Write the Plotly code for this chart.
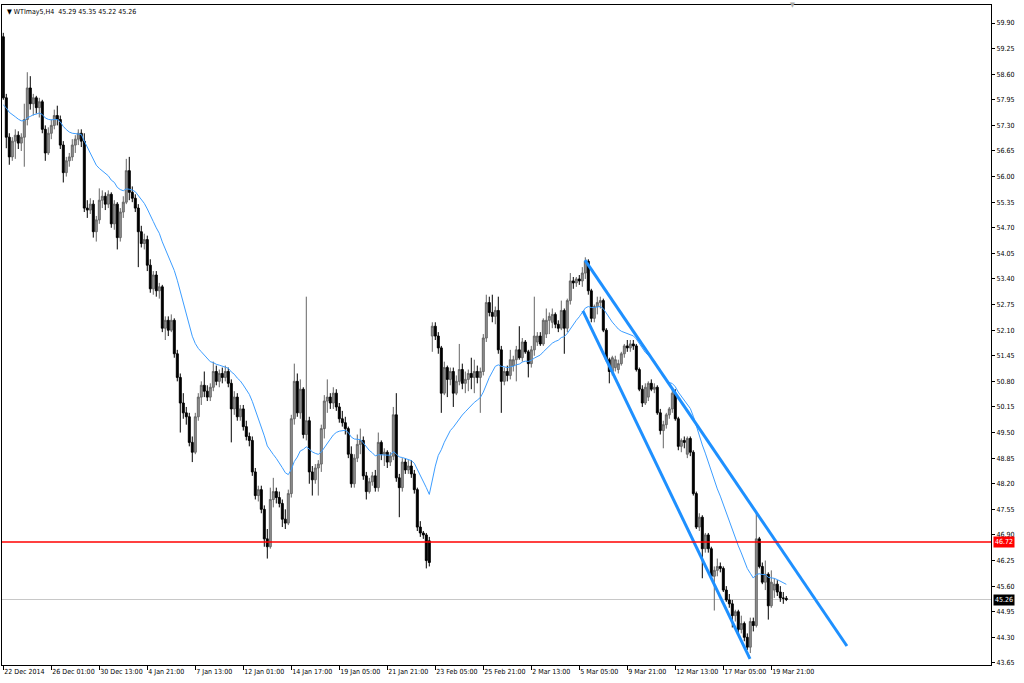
import plotly.graph_objects as go

# ---------------- data (WTImay5, H4) ----------------
opens = [
    59.55, 58.00, 57.00, 56.50, 56.90, 57.05, 56.85, 57.00, 57.45, 58.25,
    57.85, 58.00, 57.75, 57.90, 57.20, 56.60, 57.10, 57.30, 57.55, 57.45,
    56.80, 56.10, 56.40, 56.50, 56.80, 56.95, 57.10, 56.90, 55.20, 55.15,
    55.30, 54.60, 54.90, 55.40, 55.50, 55.30, 55.55, 54.80, 55.30, 54.45,
    55.10, 55.35, 56.15, 55.60, 55.45, 55.20, 54.60, 54.30, 54.40, 53.75,
    53.15, 53.50, 53.10, 53.20, 52.15, 52.35, 52.10, 52.35, 51.50, 50.90,
    50.25, 50.00, 49.90, 49.25, 49.00, 49.90, 50.40, 50.70, 50.55, 50.40,
    50.65, 51.05, 50.80, 51.00, 50.90, 51.05, 50.75, 50.10, 50.40, 49.90,
    50.10, 49.65, 49.40, 49.30, 48.50, 47.90, 48.05, 47.55, 46.80, 46.60,
    47.80, 48.00, 47.85, 47.70, 47.30, 47.20, 47.95, 49.85, 50.80, 50.00,
    50.60, 49.45, 49.80, 48.50, 48.30, 48.60, 48.70, 49.60, 50.30, 50.40,
    50.25, 50.50, 50.15, 49.85, 49.75, 49.60, 48.95, 48.20, 48.85, 49.20,
    49.30, 48.40, 48.00, 48.25, 48.40, 48.10, 49.25, 48.95, 49.00, 48.75,
    48.90, 49.95, 48.35, 48.10, 48.75, 48.55, 48.65, 48.45, 48.05, 47.10,
    46.95, 46.90, 46.75, 51.95, 52.20, 51.95, 51.65, 50.50, 51.15, 50.85,
    51.05, 50.50, 50.80, 51.10, 50.75, 50.85, 51.00, 50.90, 51.05, 50.90,
    51.05, 51.90, 52.80, 52.55, 52.45, 52.60, 51.60, 50.80, 51.05, 50.95,
    51.20, 51.35, 51.60, 51.40, 51.80, 51.55, 51.25, 51.60, 51.80, 51.95,
    51.75, 52.00, 52.35, 52.30, 52.50, 52.25, 52.15, 52.60, 52.15, 52.85,
    53.35, 53.30, 53.40, 53.35, 53.55, 53.85, 53.10, 52.40, 52.70, 52.80,
    52.85, 52.10, 51.35, 51.05, 51.15, 51.10, 51.25, 51.50, 51.70, 51.65,
    51.75, 51.70, 51.10, 50.60, 50.25, 50.40, 50.75, 50.60, 50.65, 50.00,
    49.55, 49.70, 49.95, 50.10, 50.50, 49.85, 49.15, 49.30, 48.95, 49.35,
    49.00, 47.95, 47.10, 47.35, 46.55, 46.90, 46.55, 45.85, 46.00, 46.10,
    46.05, 45.50, 45.25, 45.15, 44.85, 44.95, 44.50, 44.65, 44.30, 44.05,
    44.70, 44.60, 46.80, 46.10, 45.70, 45.90, 45.10, 45.50, 45.65, 45.45,
    45.30, 45.29,
]
highs = [
    59.65, 58.10, 57.10, 57.00, 57.20, 57.15, 57.10, 57.85, 58.65, 58.55,
    58.10, 58.05, 58.00, 57.95, 57.30, 57.25, 57.45, 57.70, 57.80, 57.55,
    56.90, 56.50, 56.60, 56.95, 57.05, 57.20, 57.20, 57.10, 55.40, 55.45,
    55.40, 55.00, 55.70, 55.65, 55.60, 55.65, 55.60, 55.40, 55.35, 55.20,
    55.50, 56.45, 56.50, 55.75, 55.55, 55.30, 54.75, 54.55, 54.50, 53.90,
    53.60, 53.60, 53.30, 53.25, 52.45, 52.45, 52.50, 52.40, 51.60, 51.00,
    50.50, 50.15, 50.00, 49.40, 50.00, 50.50, 50.80, 51.05, 50.70, 50.75,
    51.30, 51.20, 51.10, 51.15, 51.20, 51.15, 50.85, 50.55, 50.50, 50.20,
    50.20, 49.80, 49.50, 49.40, 48.60, 48.15, 48.15, 47.65, 47.05, 48.10,
    48.35, 48.10, 48.00, 47.80, 47.55, 48.05, 49.95, 51.25, 51.00, 50.85,
    50.65, 52.95, 49.90, 48.65, 48.70, 48.80, 49.70, 50.45, 50.85, 50.50,
    50.65, 50.60, 50.25, 50.05, 49.90, 49.65, 49.15, 48.95, 49.45, 49.60,
    49.40, 48.50, 48.35, 48.50, 48.55, 49.50, 49.30, 49.10, 49.05, 49.00,
    50.15, 50.50, 48.45, 48.85, 48.85, 48.80, 48.80, 48.55, 48.10, 47.25,
    47.00, 46.95, 46.85, 52.30, 52.30, 52.05, 51.70, 51.30, 51.20, 51.15,
    51.15, 50.95, 51.75, 51.25, 51.05, 51.10, 51.40, 51.35, 51.20, 51.15,
    52.00, 53.00, 52.95, 53.00, 52.70, 52.95, 51.70, 51.15, 51.20, 51.60,
    51.45, 51.70, 52.20, 51.90, 51.85, 51.60, 51.70, 52.95, 52.05, 52.05,
    52.40, 52.65, 52.55, 52.65, 52.55, 52.35, 52.85, 52.65, 52.90, 53.55,
    53.45, 53.45, 53.50, 53.70, 53.95, 53.90, 53.15, 52.75, 52.95, 52.95,
    52.90, 52.15, 51.40, 51.45, 51.45, 51.35, 51.55, 51.75, 51.85, 51.85,
    51.85, 51.75, 51.15, 50.70, 50.75, 50.80, 50.85, 50.75, 50.70, 50.10,
    49.80, 50.00, 50.15, 50.65, 50.60, 49.90, 49.35, 49.40, 49.40, 49.40,
    49.05, 48.00, 47.45, 47.40, 46.95, 46.95, 46.60, 46.10, 46.30, 46.20,
    46.10, 45.60, 45.40, 45.25, 45.00, 45.00, 44.85, 44.70, 44.40, 44.80,
    44.80, 47.45, 46.85, 46.20, 46.25, 45.95, 46.00, 45.80, 45.75, 45.60,
    45.45, 45.35,
]
lows = [
    57.95, 56.72, 56.30, 56.40, 56.45, 56.70, 56.65, 56.25, 57.30, 57.70,
    57.55, 57.60, 57.50, 57.10, 56.40, 56.55, 56.95, 57.20, 57.30, 56.70,
    55.85, 56.00, 56.25, 56.40, 56.60, 56.80, 56.75, 55.10, 54.95, 55.05,
    54.45, 54.35, 54.80, 55.20, 55.15, 55.20, 54.70, 54.65, 54.15, 54.35,
    54.95, 55.30, 55.40, 55.35, 55.10, 53.70, 54.20, 54.15, 53.60, 53.05,
    53.00, 52.95, 52.90, 52.05, 51.85, 51.95, 52.05, 51.40, 50.80, 49.50,
    49.85, 49.70, 49.15, 48.75, 48.95, 49.80, 50.20, 50.40, 50.30, 50.30,
    50.55, 50.70, 50.65, 50.75, 50.80, 50.65, 49.25, 49.95, 49.80, 49.80,
    49.55, 49.30, 49.15, 48.40, 47.80, 47.75, 47.45, 46.60, 46.30, 46.55,
    47.60, 47.70, 47.60, 47.10, 47.05, 47.15, 47.85, 49.70, 49.90, 49.85,
    49.35, 49.30, 48.20, 47.90, 48.20, 47.90, 48.50, 49.35, 50.00, 50.10,
    50.10, 50.05, 49.75, 49.65, 49.45, 48.85, 48.10, 48.10, 48.75, 48.95,
    48.30, 47.80, 47.95, 48.15, 48.00, 48.00, 48.80, 48.65, 48.60, 48.65,
    48.80, 48.25, 47.35, 48.00, 48.45, 48.45, 48.35, 47.95, 47.00, 46.85,
    46.80, 46.05, 46.10, 51.55, 51.85, 51.50, 50.00, 50.45, 50.40, 50.70,
    50.15, 50.45, 50.70, 50.60, 50.50, 50.55, 50.60, 50.50, 50.75, 50.00,
    50.95, 51.80, 52.45, 52.30, 52.25, 51.50, 50.00, 50.70, 50.80, 50.85,
    51.05, 50.80, 51.35, 51.30, 51.50, 50.90, 51.15, 51.45, 51.70, 51.70,
    51.70, 51.90, 52.00, 52.15, 52.15, 52.05, 52.10, 51.50, 52.05, 52.75,
    53.15, 53.20, 53.25, 53.20, 53.40, 53.00, 52.30, 52.30, 52.50, 52.65,
    52.05, 51.30, 50.75, 50.95, 51.05, 51.00, 51.20, 51.40, 51.55, 51.55,
    51.60, 51.05, 50.55, 50.15, 50.20, 50.30, 50.55, 50.50, 49.95, 49.45,
    49.10, 49.60, 49.85, 50.00, 49.80, 49.05, 49.00, 49.10, 48.85, 48.90,
    47.90, 47.05, 47.00, 45.80, 46.45, 46.45, 45.80, 44.98, 45.85, 45.95,
    45.45, 45.20, 45.05, 44.55, 44.70, 44.40, 44.40, 44.20, 43.98, 43.90,
    44.45, 44.55, 46.05, 45.65, 45.50, 44.75, 45.05, 45.30, 45.35, 45.20,
    45.15, 45.22,
]
closes = [
    58.00, 57.00, 56.50, 56.90, 57.05, 56.85, 57.00, 57.45, 58.25, 57.85,
    58.00, 57.75, 57.90, 57.20, 56.60, 57.10, 57.30, 57.55, 57.45, 56.80,
    56.10, 56.40, 56.50, 56.80, 56.95, 57.10, 56.90, 55.20, 55.15, 55.30,
    54.60, 54.90, 55.40, 55.50, 55.30, 55.55, 54.80, 55.30, 54.45, 55.10,
    55.35, 56.15, 55.60, 55.45, 55.20, 54.60, 54.30, 54.40, 53.75, 53.15,
    53.50, 53.10, 53.20, 52.15, 52.35, 52.10, 52.35, 51.50, 50.90, 50.25,
    50.00, 49.90, 49.25, 49.00, 49.90, 50.40, 50.70, 50.55, 50.40, 50.65,
    51.05, 50.80, 51.00, 50.90, 51.05, 50.75, 50.10, 50.40, 49.90, 50.10,
    49.65, 49.40, 49.30, 48.50, 47.90, 48.05, 47.55, 46.80, 46.60, 47.80,
    48.00, 47.85, 47.70, 47.30, 47.20, 47.95, 49.85, 50.80, 50.00, 50.60,
    49.45, 49.80, 48.50, 48.30, 48.60, 48.70, 49.60, 50.30, 50.40, 50.25,
    50.50, 50.15, 49.85, 49.75, 49.60, 48.95, 48.20, 48.85, 49.20, 49.30,
    48.40, 48.00, 48.25, 48.40, 48.10, 49.25, 48.95, 49.00, 48.75, 48.90,
    49.95, 48.35, 48.10, 48.75, 48.55, 48.65, 48.45, 48.05, 47.10, 46.95,
    46.90, 46.25, 46.20, 52.20, 51.95, 51.65, 50.50, 51.15, 50.85, 51.05,
    50.50, 50.80, 51.10, 50.75, 50.85, 51.00, 50.90, 51.05, 50.90, 51.05,
    51.90, 52.80, 52.55, 52.45, 52.60, 51.60, 50.80, 51.05, 50.95, 51.35,
    51.35, 51.60, 51.40, 51.80, 51.55, 51.25, 51.60, 51.95, 51.95, 51.75,
    52.35, 52.35, 52.45, 52.50, 52.25, 52.15, 52.60, 52.15, 52.85, 53.35,
    53.30, 53.40, 53.35, 53.55, 53.85, 53.10, 52.40, 52.70, 52.80, 52.85,
    52.10, 51.35, 51.05, 51.40, 51.35, 51.25, 51.50, 51.70, 51.65, 51.75,
    51.70, 51.10, 50.60, 50.25, 50.65, 50.75, 50.60, 50.65, 50.00, 49.55,
    49.70, 49.95, 50.10, 50.50, 49.85, 49.15, 49.30, 49.25, 49.35, 49.00,
    47.95, 47.10, 47.35, 46.55, 46.90, 46.55, 45.85, 46.00, 46.10, 46.05,
    45.50, 45.25, 45.15, 44.85, 44.95, 44.50, 44.65, 44.30, 44.05, 44.70,
    44.60, 46.80, 46.10, 45.70, 45.90, 45.10, 45.70, 45.65, 45.45, 45.30,
    45.29, 45.26,
]

# moving average (EMA) settings, first visible value
ma_period = 21
ma_start = 57.82

# x-axis labels (every 16 bars)
tick_bars = [0, 16, 32, 48, 64, 80, 96, 112, 128, 144, 160, 176, 192, 208, 224, 240, 256]
tick_labels = ["22 Dec 2014", "26 Dec 01:00", "30 Dec 13:00", "4 Jan 21:00", "7 Jan 13:00",
               "12 Jan 01:00", "14 Jan 17:00", "19 Jan 05:00", "21 Jan 21:00", "23 Feb 05:00",
               "25 Feb 21:00", "2 Mar 13:00", "5 Mar 05:00", "9 Mar 21:00", "12 Mar 13:00",
               "17 Mar 05:00", "19 Mar 21:00"]

# price axis ticks
price_ticks = [43.65, 44.30, 44.95, 45.60, 46.25, 46.90, 47.55, 48.20, 48.85, 49.50,
               50.15, 50.80, 51.45, 52.10, 52.75, 53.40, 54.05, 54.70, 55.35, 56.00,
               56.65, 57.30, 57.95, 58.60, 59.25, 59.90]

# drawn trend channel (bar index, price)
upper_line_x = [193.9, 281.2]
upper_line_y = [53.88, 44.08]
lower_line_x = [193.2, 248.9]
lower_line_y = [52.59, 43.75]

support_level = 46.72
bid_price = 45.26
title_text = "WTImay5,H4&nbsp;&nbsp;45.29 45.35 45.22 45.26"

# ---------------- figure ----------------
n = len(closes)
assert len(opens) == len(highs) == len(lows) == n
bars = list(range(n))

alpha = 2.0 / (ma_period + 1)
ma = []
prev = ma_start
for i, c in enumerate(closes):
    val = ma_start if i == 0 else prev + alpha * (c - prev)
    ma.append(val)
    prev = val

FONT = "Tahoma, 'DejaVu Sans Condensed', 'DejaVu Sans', sans-serif"

fig = go.Figure()
fig.add_trace(go.Candlestick(
    x=bars, open=opens, high=highs, low=lows, close=closes,
    increasing=dict(line=dict(color="#666666", width=1), fillcolor="#949494"),
    decreasing=dict(line=dict(color="#000000", width=1), fillcolor="#000000"),
    whiskerwidth=0, showlegend=False, hoverinfo="skip",
))
fig.add_trace(go.Scatter(x=bars, y=ma, mode="lines",
                         line=dict(color="#3c9dff", width=1), hoverinfo="skip", showlegend=False))
fig.add_trace(go.Scatter(x=upper_line_x, y=upper_line_y, mode="lines",
                         line=dict(color="#1e90ff", width=3), hoverinfo="skip", showlegend=False))
fig.add_trace(go.Scatter(x=lower_line_x, y=lower_line_y, mode="lines",
                         line=dict(color="#1e90ff", width=3), hoverinfo="skip", showlegend=False))

fig.add_shape(type="line", xref="paper", x0=0, x1=1, yref="y", y0=bid_price, y1=bid_price,
              line=dict(color="#c8c8c8", width=1), layer="below")
fig.add_shape(type="line", xref="paper", x0=0, x1=1, yref="y", y0=support_level, y1=support_level,
              line=dict(color="#ff0000", width=1.5), layer="above")

fig.add_annotation(xref="paper", yref="y", x=1, y=support_level, xanchor="left", xshift=2,
                   text=f"{support_level:.2f}", showarrow=False, bgcolor="#ff0000",
                   font=dict(color="white", size=7, family=FONT), borderpad=1)
fig.add_annotation(xref="paper", yref="y", x=1, y=bid_price, xanchor="left", xshift=2,
                   text=f"{bid_price:.2f}", showarrow=False, bgcolor="#000000",
                   font=dict(color="white", size=7, family=FONT), borderpad=1)
fig.add_annotation(xref="paper", yref="paper", x=0, y=1, xanchor="left", yanchor="top",
                   xshift=3, yshift=-1, text="▼ " + title_text, showarrow=False,
                   font=dict(color="#000000", size=7, family=FONT))
fig.add_annotation(xref="x", yref="paper", x=263.2, y=1, yanchor="middle",
                   text="▼", showarrow=False, font=dict(color="#a8a8a8", size=7, family=FONT))

fig.update_layout(
    width=1024, height=683,
    margin=dict(l=2, r=33, t=5, b=18),
    paper_bgcolor="white", plot_bgcolor="white",
    showlegend=False,
    boxgap=0.35, boxgroupgap=0,
    font=dict(family=FONT, size=7, color="#000000"),
    xaxis=dict(range=[-0.43, 329.23], rangeslider=dict(visible=False),
               showgrid=False, zeroline=False, showline=True, linecolor="#000000",
               linewidth=1, mirror=True, tickmode="array", tickvals=tick_bars,
               ticktext=tick_labels, ticks="outside", ticklen=4, tickcolor="#000000",
               tickangle=0, ticklabelposition="outside right",
               tickfont=dict(size=7, family=FONT)),
    yaxis=dict(range=[43.597, 60.357], side="right", showgrid=False, zeroline=False,
               showline=True, linecolor="#000000", linewidth=1, mirror=True,
               tickmode="array", tickvals=price_ticks,
               ticktext=[f"{v:.2f}" for v in price_ticks], ticks="outside", ticklen=3,
               tickcolor="#000000", tickfont=dict(size=7, family=FONT)),
)

fig.write_html("out.html", config={"displayModeBar": False},
               post_script="document.body.style.margin='0';document.body.style.padding='0';")
